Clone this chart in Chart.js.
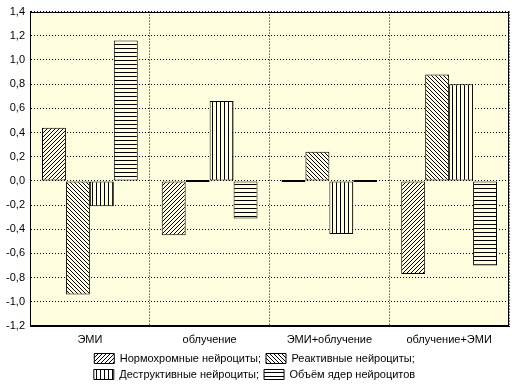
<!DOCTYPE html>
<html>
<head>
<meta charset="utf-8">
<script src="https://cdn.jsdelivr.net/npm/chart.js@4.4.1/dist/chart.umd.min.js"></script>
<style>
  html, body { margin: 0; padding: 0; background: #fff; }
  #chart { display: block; }
</style>
</head>
<body>
<canvas id="chart" width="512" height="384"></canvas>
<script>
// данные с картинки
var categories = ['ЭМИ', 'облучение', 'ЭМИ+облучение', 'облучение+ЭМИ'];
var seriesNames = ['Нормохромные нейроциты;', 'Реактивные нейроциты;', 'Деструктивные нейроциты;', 'Объём ядер нейроцитов'];
var normo = [0.44, -0.45, 0, -0.77];
var reactive = [-0.94, 0, 0.24, 0.88];
var destructive = [-0.21, 0.66, -0.44, 0.80];
var volume = [1.16, -0.31, 0, -0.70];
var yMin = -1.2, yMax = 1.4, yStep = 0.2;

var plotBg = '#ffffe0';
var fontFamily = '"Liberation Sans", Arial, sans-serif';

// штриховка: kind = 'fwd' (///), 'back' (\\\), 'vert', 'horz'
function makePattern(kind, bg) {
  var n = 4;
  var c = document.createElement('canvas');
  c.width = n; c.height = n;
  var g = c.getContext('2d');
  g.fillStyle = bg;
  g.fillRect(0, 0, n, n);
  g.fillStyle = '#000';
  for (var i = 0; i < n; i++) {
    if (kind === 'fwd') g.fillRect(i, n - 1 - i, 1, 1);
    else if (kind === 'back') g.fillRect(i, i, 1, 1);
    else if (kind === 'vert') g.fillRect(0, i, 1, 1);
    else g.fillRect(i, 0, 1, 1);
  }
  return document.getElementById('chart').getContext('2d').createPattern(c, 'repeat');
}

var kinds = ['fwd', 'back', 'vert', 'horz'];
var barPatterns = kinds.map(function(k) { return makePattern(k, plotBg); });
var legendPatterns = kinds.map(function(k) { return makePattern(k, '#ffffff'); });

var plotFrame = {
  id: 'plotFrame',
  beforeLayout: function(chart) {
    // легенда в две строки по два элемента, как в оригинале
    var lg = chart.legend;
    if (!lg || lg._twoRows) return;
    var origFit = lg.fit;
    lg.fit = function() {
      this.maxWidth = Math.min(this.maxWidth, 420);
      origFit.call(this);
      this.height = 36;
    };
    lg._twoRows = true;
  },
  beforeDraw: function(chart) {
    var a = chart.chartArea, ctx = chart.ctx;
    ctx.save();
    ctx.fillStyle = plotBg;
    ctx.fillRect(a.left, a.top, a.right - a.left, a.bottom - a.top);
    ctx.restore();
  },
  afterDraw: function(chart) {
    var a = chart.chartArea, ctx = chart.ctx;
    ctx.save();
    ctx.strokeStyle = '#000';
    ctx.lineWidth = 1;
    ctx.strokeRect(Math.round(a.left) + 0.5, Math.round(a.top) + 0.5,
      Math.round(a.right - a.left) - 1, Math.round(a.bottom - a.top) - 1);
    ctx.restore();
  }
};

function ds(i, values) {
  return {
    label: seriesNames[i],
    data: values,
    backgroundColor: barPatterns[i],
    borderColor: '#000',
    borderWidth: 1,
    borderSkipped: false,
    minBarLength: 2,
    categoryPercentage: 0.8,
    barPercentage: 1.0
  };
}

Chart.defaults.font.family = fontFamily;
Chart.defaults.font.size = 11;
Chart.defaults.color = '#000';

new Chart(document.getElementById('chart'), {
  type: 'bar',
  data: {
    labels: categories,
    datasets: [ds(0, normo), ds(1, reactive), ds(2, destructive), ds(3, volume)]
  },
  options: {
    responsive: false,
    animation: false,
    layout: { padding: { top: 7, right: 3, left: 0, bottom: 0 } },
    scales: {
      x: {
        grid: { color: '#000', lineWidth: 1, drawTicks: false, offset: true },
        border: { display: true, color: '#000', dash: [1, 2] },
        ticks: { padding: 7, color: '#000', maxRotation: 0 },
        afterFit: function(scale) { scale.height = 22; }
      },
      y: {
        min: yMin,
        max: yMax,
        grid: { color: '#000', lineWidth: 1, drawTicks: false },
        border: { display: true, color: '#000', dash: [1, 2] },
        ticks: {
          stepSize: yStep,
          padding: 5,
          color: '#000',
          callback: function(v) {
            if (Math.abs(v) < 1e-9) v = 0;
            return v.toFixed(1).replace('.', ',');
          }
        },
        afterFit: function(scale) { scale.width = 30; }
      }
    },
    plugins: {
      tooltip: { enabled: false },
      legend: {
        position: 'bottom',
        labels: {
          boxWidth: 20,
          boxHeight: 10,
          padding: 5,
          color: '#000',
          generateLabels: function(chart) {
            var items = Chart.defaults.plugins.legend.labels.generateLabels(chart);
            items.forEach(function(it, i) {
              it.fillStyle = legendPatterns[i];
              it.strokeStyle = '#000';
              it.lineWidth = 1;
            });
            return items;
          }
        }
      }
    }
  },
  plugins: [plotFrame]
});
</script>
</body>
</html>
